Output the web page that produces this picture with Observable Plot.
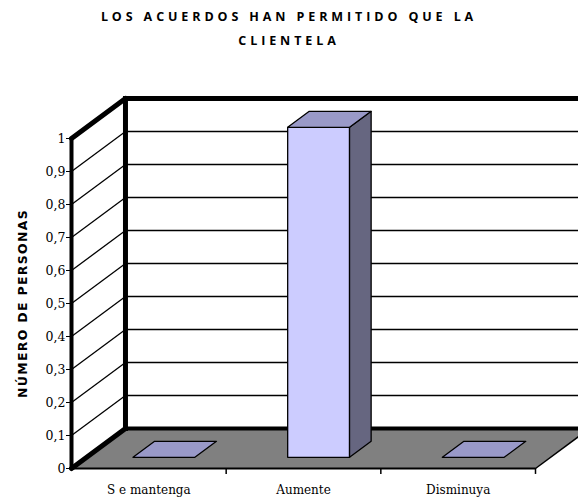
<!DOCTYPE html>
<html><head><meta charset="utf-8">
<script src="https://cdn.jsdelivr.net/npm/d3@7"></script>
<script src="https://cdn.jsdelivr.net/npm/@observablehq/plot@0.6"></script>
<style>
html,body{margin:0;padding:0;background:#fff;overflow:hidden}
#wrap{position:relative;width:578px;height:499px}
#wrap svg{position:absolute;left:0;top:0}
#title{position:absolute;left:0;top:5px;width:578px;text-align:center;font-family:"Open Sans";font-weight:bold;font-size:12.5px;letter-spacing:3.9px;line-height:24px;color:#000}
</style></head><body>
<div id="wrap"></div>
<script>
// ---- data ----
const categories = ["S e mantenga", "Aumente", "Disminuya"];
const values = [0, 1, 0];
const yTicks = [0, 0.1, 0.2, 0.3, 0.4, 0.5, 0.6, 0.7, 0.8, 0.9, 1];
const yTickLabels = ["0", "0,1", "0,2", "0,3", "0,4", "0,5", "0,6", "0,7", "0,8", "0,9", "1"];
const gridValues = [0.1, 0.2, 0.3, 0.4, 0.5, 0.6, 0.7, 0.8, 0.9];
const titleLines = ["LOS ACUERDOS HAN PERMITIDO QUE LA", "CLIENTELA"];
const yTitle = "NÚMERO DE PERSONAS";

// ---- oblique 3D projection in data units ----
const DX = 0.349, DY = 0.1212;           // full depth offset (x units, y units)
const N = categories.length;
const P = (xc, v, t) => ({x: xc + t * DX, y: v + t * DY});
const HALF = 0.2, T0 = 0.28, T1 = 0.68;  // bar half width & depth span

function poly(id, pts) { return pts.map(p => ({id, ...p})); }

const floor = poly("floor", [P(0,0,0), P(N,0,0), P(N,0,1), P(0,0,1)]);

const fronts = [], sides = [], tops = [];
categories.forEach((c, i) => {
  const v = values[i], l = i + 0.5 - HALF, r = i + 0.5 + HALF;
  if (v > 0) {
    fronts.push(...poly(c, [P(l,0,T0), P(r,0,T0), P(r,v,T0), P(l,v,T0)]));
    sides.push(...poly(c, [P(r,0,T0), P(r,0,T1), P(r,v,T1), P(r,v,T0)]));
  }
  tops.push(...poly(c, [P(l,v,T0), P(r,v,T0), P(r,v,T1), P(l,v,T1)]));
});

const seg = (a, b) => ({x1: a.x, y1: a.y, x2: b.x, y2: b.y});
const backGrid = gridValues.map(v => seg(P(0,v,1), P(N,v,1)));
const sideGrid = gridValues.map(v => seg(P(0,v,0), P(0,v,1)));

const chart = Plot.plot({
  width: 578, height: 499,
  marginLeft: 71, marginRight: 43, marginTop: 138, marginBottom: 31,
  style: {fontFamily: "DejaVu Serif", fontSize: "12.5px", background: "white", color: "black"},
  x: {domain: [0, N], axis: null},
  y: {domain: [0, 1], ticks: yTicks, tickFormat: d => yTickLabels[yTicks.indexOf(d)], tickSize: 5, tickPadding: 1, label: null},
  marks: [
    Plot.line(floor, {x: "x", y: "y", z: "id", fill: "#808080", stroke: "none", curve: "linear-closed"}),
    Plot.link([seg(P(0,0,0), P(N,0,0))], {x1: "x1", y1: "y1", x2: "x2", y2: "y2", stroke: "black", strokeWidth: 2}),
    Plot.link([seg(P(N,0,0), P(N,0,1))], {x1: "x1", y1: "y1", x2: "x2", y2: "y2", stroke: "black", strokeWidth: 1.5}),
    Plot.link(backGrid, {x1: "x1", y1: "y1", x2: "x2", y2: "y2", stroke: "black", strokeWidth: 1.5}),
    Plot.link(sideGrid, {x1: "x1", y1: "y1", x2: "x2", y2: "y2", stroke: "black", strokeWidth: 1.3}),
    // wall borders
    Plot.link([seg(P(0,1,1), P(N,1,1))], {x1: "x1", y1: "y1", x2: "x2", y2: "y2", stroke: "black", strokeWidth: 5}),
    Plot.link([seg(P(0,0,1), P(N,0,1))], {x1: "x1", y1: "y1", x2: "x2", y2: "y2", stroke: "black", strokeWidth: 4}),
    Plot.link([seg(P(0,0,1), P(0,1,1))], {x1: "x1", y1: "y1", x2: "x2", y2: "y2", stroke: "black", strokeWidth: 5, strokeLinecap: "square"}),
    Plot.link([seg(P(0,1,0), P(0,1,1)), seg(P(0,0,0), P(0,0,1))], {x1: "x1", y1: "y1", x2: "x2", y2: "y2", stroke: "black", strokeWidth: 5, strokeLinecap: "round"}),
    Plot.link([seg(P(0,0,0), P(0,1,0))], {x1: "x1", y1: "y1", x2: "x2", y2: "y2", stroke: "black", strokeWidth: 4, strokeLinecap: "round"}),
    // category ticks
    Plot.ruleX(d3.range(1, N + 1), {x: d => d, y1: 0, y2: -0.018, stroke: "black", strokeWidth: 1.5}),
    // bars
    Plot.line(fronts, {x: "x", y: "y", z: "id", fill: "#CCCCFF", stroke: "black", strokeWidth: 1.3, curve: "linear-closed"}),
    Plot.line(sides, {x: "x", y: "y", z: "id", fill: "#666680", stroke: "black", strokeWidth: 1.3, curve: "linear-closed"}),
    Plot.line(tops, {x: "x", y: "y", z: "id", fill: "#9999C8", stroke: "black", strokeWidth: 1.3, curve: "linear-closed"}),
    // labels
    Plot.text(categories, {x: (d, i) => i + 0.5, y: () => 0, text: d => d, dy: 22, fontFamily: "DejaVu Serif", fontSize: 12}),
    Plot.text([0.5], {y: d => d, frameAnchor: "left", textAnchor: "middle", dx: -49, rotate: -90, text: () => yTitle, fontFamily: "DejaVu Sans", fontWeight: "bold", fontSize: 12.5})
  ]
});
d3.select(chart).selectAll("text").filter(function() { return this.textContent === yTitle; })
  .style("letter-spacing", "1.3px");
const wrap = document.getElementById("wrap");
wrap.appendChild(chart);
const t = document.createElement("div");
t.id = "title";
t.innerHTML = titleLines.join("<br>");
wrap.appendChild(t);
</script>
</body></html>
